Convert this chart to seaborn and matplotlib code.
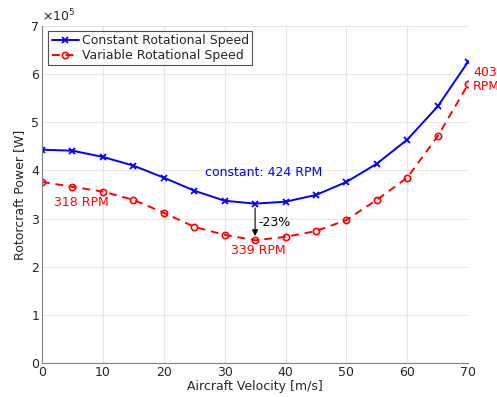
import matplotlib
matplotlib.use("Agg")
import matplotlib.pyplot as plt
import seaborn as sns
import pandas as pd

velocity = [0, 5, 10, 15, 20, 25, 30, 35, 40, 45, 50, 55, 60, 65, 70]
power_constant = [4.43, 4.41, 4.28, 4.10, 3.85, 3.58, 3.37, 3.31, 3.35, 3.49, 3.76, 4.14, 4.64, 5.33, 6.26]
power_variable = [3.76, 3.66, 3.56, 3.39, 3.12, 2.83, 2.66, 2.55, 2.62, 2.74, 2.97, 3.39, 3.85, 4.71, 5.79]
series_names = ["Constant Rotational Speed", "Variable Rotational Speed"]
x_ticks = [0, 10, 20, 30, 40, 50, 60, 70]
y_ticks = [0, 1, 2, 3, 4, 5, 6, 7]

sns.set_style("whitegrid")
plt.rcParams['font.family'] = ['DejaVu Sans']

df_c = pd.DataFrame({"v": velocity, "p": power_constant})
df_v = pd.DataFrame({"v": velocity, "p": power_variable})

fig = plt.figure(figsize=(4.97, 3.97), dpi=100)
ax = fig.add_axes([0.0845, 0.0856, 0.8575, 0.849])

sns.lineplot(data=df_c, x="v", y="p", ax=ax, color="blue", marker="x", markersize=5,
             markeredgecolor="blue", markeredgewidth=1.3, linewidth=1.4,
             label=series_names[0])
sns.lineplot(data=df_v, x="v", y="p", ax=ax, color="red", marker="o", markersize=4.5,
             markerfacecolor="none", markeredgecolor="red", markeredgewidth=1.2,
             linewidth=1.4, linestyle=(0, (4, 3)), label=series_names[1])

ax.set_xlim(0, 70)
ax.set_ylim(0, 7)
ax.set_xticks(x_ticks)
ax.set_yticks(y_ticks)
ax.tick_params(labelsize=9, colors="#262626", length=3, direction="in", pad=2)
ax.grid(True, color="#e6e6e6", linewidth=0.8)
for s in ["top", "right"]:
    ax.spines[s].set_visible(False)
for s in ["left", "bottom"]:
    ax.spines[s].set_color("#808080")
    ax.spines[s].set_linewidth(0.8)
ax.set_xlabel("Aircraft Velocity [m/s]", fontsize=9, color="#262626", labelpad=1)
ax.set_ylabel("Rotorcraft Power [W]", fontsize=9, color="#262626", labelpad=4)
ax.text(0.0, 1.005, r"$\times10^5$", transform=ax.transAxes, fontsize=9, color="#262626",
        ha="left", va="bottom")

leg = ax.legend(loc="upper left", bbox_to_anchor=(0.015, 0.985), fontsize=9, frameon=True,
                fancybox=False, edgecolor="#262626", borderpad=0.25, handlelength=2.2,
                handletextpad=0.2, labelspacing=0.15, borderaxespad=0)
leg.get_frame().set_linewidth(0.8)

ax.text(26.8, 3.95, "constant: 424 RPM", color="blue", fontsize=9, ha="left", va="center")
ax.text(2.0, 3.33, "318 RPM", color="red", fontsize=9, ha="left", va="center")
ax.text(31.0, 2.33, "339 RPM", color="red", fontsize=9, ha="left", va="center")
ax.text(35.6, 2.91, "-23%", color="black", fontsize=9, ha="left", va="center")
ax.text(70.8, 5.88, "403\nRPM", color="red", fontsize=9, ha="left", va="center",
        linespacing=1.1, clip_on=False)
ax.annotate("", xy=(velocity[7], power_variable[7] + 0.03), xytext=(velocity[7], power_constant[7] - 0.03),
            arrowprops=dict(arrowstyle="-|>", color="black", lw=0.8, mutation_scale=9))

fig.savefig("out.png", dpi=100)
